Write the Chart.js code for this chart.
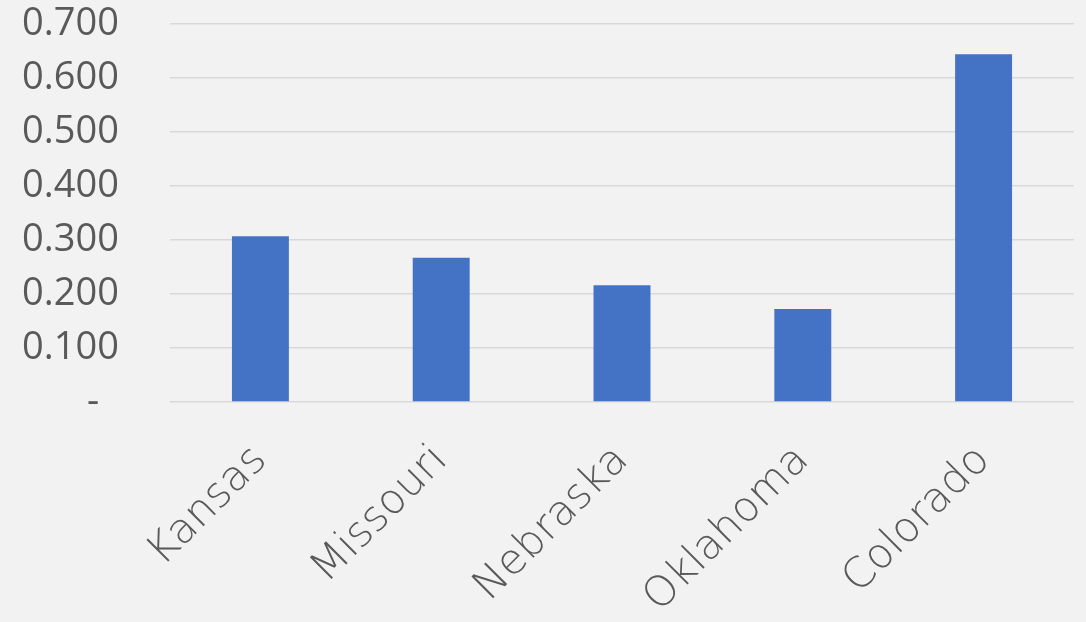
<!DOCTYPE html>
<html>
<head>
<meta charset="utf-8">
<script src="https://cdn.jsdelivr.net/npm/chart.js@4"></script>
<style>
  html, body { margin: 0; padding: 0; background: #f2f2f2; }
  #chart { display: block; }
</style>
</head>
<body>
<canvas id="chart" width="1086" height="622"></canvas>
<script>
// states and their values
var states = ["Kansas", "Missouri", "Nebraska", "Oklahoma", "Colorado"];
var values = [0.307, 0.267, 0.216, 0.172, 0.644];
var yTicks = [0, 0.1, 0.2, 0.3, 0.4, 0.5, 0.6, 0.7];

var ctx = document.getElementById("chart").getContext("2d");
var chart = new Chart(ctx, {
    type: "bar",
    data: {
        labels: states,
        datasets: [{
            data: values,
            backgroundColor: "#4472c4",
            borderWidth: 0,
            categoryPercentage: 1,
            barPercentage: 0.315
        }]
    },
    options: {
        responsive: false,
        animation: false,
        layout: { padding: { top: 24, right: 12, left: 0, bottom: 0 } },
        plugins: { legend: { display: false }, tooltip: { enabled: false } },
        scales: {
            x: {
                grid: { display: false },
                border: { display: false },
                ticks: {
                    color: "#595959",
                    font: { family: "DejaVu Sans", size: 42, weight: 200 },
                    maxRotation: 45,
                    minRotation: 45,
                    padding: 26
                },
                afterFit: function(scale) {
                    scale.height = 220;
                    scale.paddingLeft = 0;
                    scale.paddingRight = 0;
                }
            },
            y: {
                min: 0,
                max: 0.7,
                afterBuildTicks: function(scale) {
                    scale.ticks = yTicks.map(function(v) { return { value: v }; });
                },
                grid: { color: "#d9d9d9", lineWidth: 1.5, drawTicks: false },
                border: { display: false },
                ticks: {
                    color: "#595959",
                    font: { family: "Open Sans", size: 38 },
                    padding: 51,
                    // excel shows zero as a dash with some trailing space
                    callback: function(v) { return v === 0 ? "-  " : v.toFixed(3); }
                },
                afterFit: function(scale) {
                    scale.width = 170;
                    scale.paddingTop = 0;
                    scale.paddingBottom = 0;
                }
            }
        }
    }
});
</script>
</body>
</html>
